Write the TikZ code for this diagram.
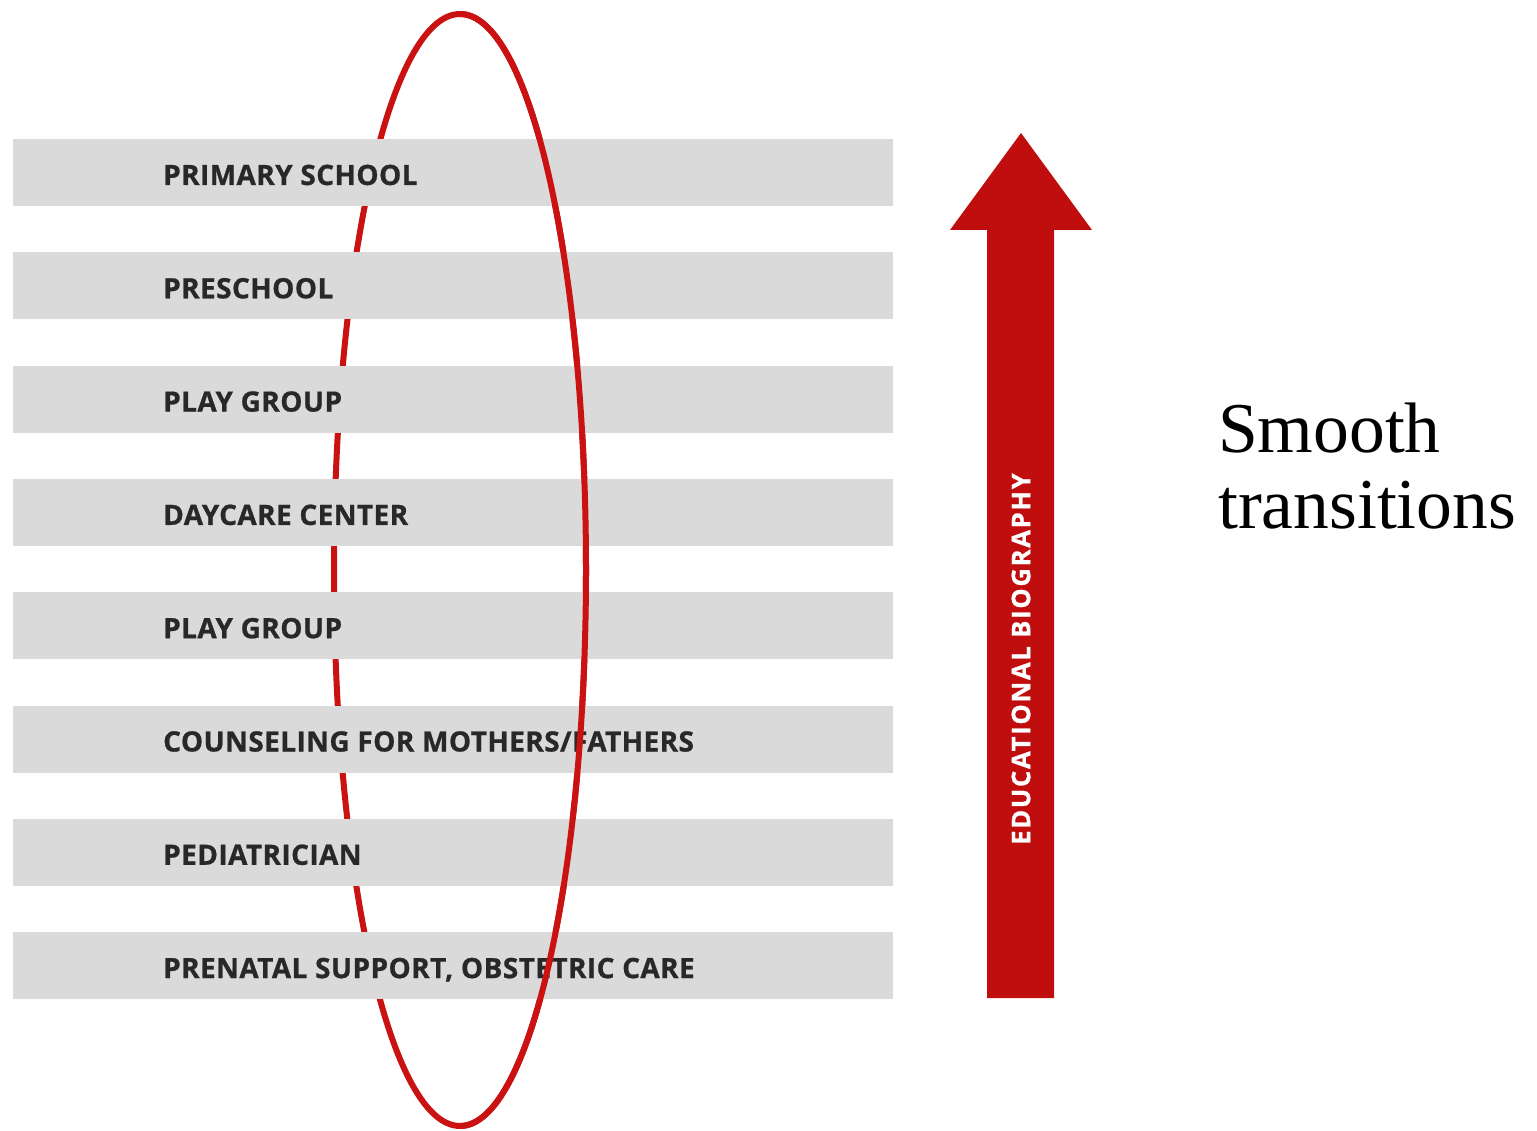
\documentclass[tikz,border=0pt]{standalone}
\usepackage{fontspec}
\setmainfont{Liberation Serif}
\newfontfamily\lblfont{Open Sans}[LetterSpace=1.5,FakeBold=0.8]
\newfontfamily\edufont{Open Sans}[LetterSpace=7,FakeBold=1]
\definecolor{barfill}{RGB}{218,218,218}
\definecolor{lbltext}{RGB}{40,40,40}
\definecolor{ringred}{RGB}{202,18,18}
\definecolor{arrowred}{RGB}{192,14,14}
\begin{document}
\begin{tikzpicture}[x=1pt,y=-1pt,
  bar/.style={fill=barfill,draw=none,minimum width=880pt,minimum height=67pt,inner sep=0pt,anchor=north west},
  lbl/.style={anchor=base west,inner sep=0pt,text=lbltext,font=\lblfont\bfseries\fontsize{28}{32}\selectfont},
  ring/.style={draw=ringred,line width=6pt}]
\useasboundingbox (0,0) rectangle (1537,1131);
% back half of ring
\draw[ring] (460,570) ellipse [x radius=126, y radius=556];
% bars
\foreach \i/\t in {0/{PRIMARY SCHOOL},1/{PRESCHOOL},2/{PLAY GROUP},3/{DAYCARE CENTER},4/{PLAY GROUP},5/{COUNSELING FOR MOTHERS/FATHERS},6/{PEDIATRICIAN},7/{PRENATAL SUPPORT, OBSTETRIC CARE}}{
  \node[bar] (bar\i) at (13,139+113.3*\i) {};
  \node[lbl] (lbl\i) at (163,185+113.3*\i) {\t};
}
% front half of ring
\begin{scope}
\clip (460,0) rectangle (1537,1131);
\draw[ring] (460,570) ellipse [x radius=126, y radius=556];
\end{scope}
% arrow
\fill[arrowred] (987,998) -- (987,230) -- (950,230) -- (1021,133) -- (1092,230) -- (1054,230) -- (1054,998) -- cycle;
\node[rotate=90,text=white,inner sep=0pt,font=\edufont\bfseries\fontsize{25.5}{30}\selectfont] (edu) at (1021,659) {EDUCATIONAL BIOGRAPHY};
% side text
\node[anchor=base west,inner sep=0pt,font=\fontsize{71.5}{76}\selectfont] (smooth) at (1218,452) {Smooth};
\node[anchor=base west,inner sep=0pt,font=\fontsize{71.5}{76}\selectfont] (trans) at (1218,528) {transitions};
\end{tikzpicture}
\end{document}
